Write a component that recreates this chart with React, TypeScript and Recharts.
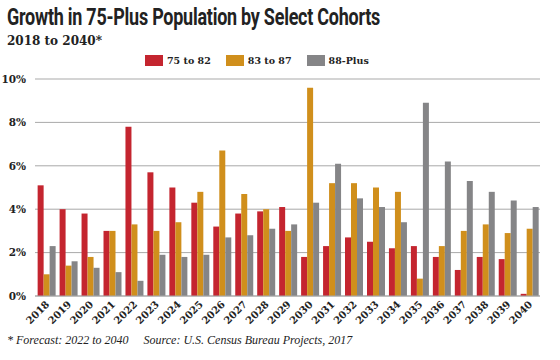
import { BarChart, Bar, XAxis, YAxis, CartesianGrid } from 'recharts';

const years = [
  '2018', '2019', '2020', '2021', '2022', '2023', '2024', '2025', '2026', '2027', '2028', '2029',
  '2030', '2031', '2032', '2033', '2034', '2035', '2036', '2037', '2038', '2039', '2040',
];
const cohort75to82 = [5.1, 4.0, 3.8, 3.0, 7.8, 5.7, 5.0, 4.3, 3.2, 3.8, 3.9, 4.1, 1.8, 2.3, 2.7, 2.5, 2.2, 2.3, 1.8, 1.2, 1.8, 1.7, 0.1];
const cohort83to87 = [1.0, 1.4, 1.8, 3.0, 3.3, 3.0, 3.4, 4.8, 6.7, 4.7, 4.0, 3.0, 9.6, 5.2, 5.2, 5.0, 4.8, 0.8, 2.3, 3.0, 3.3, 2.9, 3.1];
const cohort88plus = [2.3, 1.6, 1.3, 1.1, 0.7, 1.9, 1.8, 1.9, 2.7, 2.8, 3.1, 3.3, 4.3, 6.1, 4.5, 4.1, 3.4, 8.9, 6.2, 5.3, 4.8, 4.4, 4.1];
const yTicks = [0, 2, 4, 6, 8, 10];

const RED = '#c4252f';
const GOLD = '#d08f1c';
const GRAY = '#858587';
const SERIF = '"DejaVu Serif", serif';

const data = years.map((year, i) => ({
  year,
  a: cohort75to82[i],
  b: cohort83to87[i],
  c: cohort88plus[i],
}));

const legend = [
  { label: '75 to 82', color: RED },
  { label: '83 to 87', color: GOLD },
  { label: '88-Plus', color: GRAY },
];

function YearTick({ x, y, payload }: { x?: number; y?: number; payload?: { value: string } }) {
  return (
    <g transform={`translate(${(x ?? 0) + 4},${(y ?? 0) + 1})`}>
      <text
        x={0}
        y={0}
        transform="rotate(-45)"
        textAnchor="end"
        fontFamily={SERIF}
        fontWeight="bold"
        fontSize={10}
        fill="#222"
      >
        {payload?.value}
      </text>
    </g>
  );
}

export default function App() {
  return (
    <div style={{ position: 'absolute', left: 0, top: 0, width: 560, height: 360, background: '#fff', overflow: 'hidden' }}>
      <div style={{ position: 'absolute', left: 7, top: 4, whiteSpace: 'nowrap', transform: 'scaleX(0.78)', transformOrigin: 'left top', fontFamily: 'Roboto, sans-serif', fontWeight: 'bold', fontSize: 23, color: '#222', letterSpacing: -0.3 }}>
        Growth in 75-Plus Population by Select Cohorts
      </div>
      <div style={{ position: 'absolute', left: 7, top: 34, whiteSpace: 'nowrap', fontFamily: SERIF, fontWeight: 'bold', fontSize: 12, color: '#222' }}>
        2018 to 2040*
      </div>
      <div style={{ position: 'absolute', left: 145, top: 55, display: 'flex', gap: 15, fontFamily: SERIF, fontWeight: 'bold', fontSize: 9.5, color: '#222' }}>
        {legend.map((l) => (
          <div key={l.label} style={{ display: 'flex', alignItems: 'center', gap: 4 }}>
            <span style={{ display: 'inline-block', width: 18, height: 11, background: l.color }} />
            <span>{l.label}</span>
          </div>
        ))}
      </div>
      <div style={{ position: 'absolute', left: 0, top: 0 }}>
        <BarChart
          width={560}
          height={332}
          data={data}
          margin={{ top: 79, right: 20, bottom: 0, left: 0 }}
          barCategoryGap="12%"
          barGap={0}
        >
          <CartesianGrid vertical={false} stroke="#a9a9a9" />
          <XAxis dataKey="year" interval={0} tickLine={false} axisLine={{ stroke: '#a9a9a9' }} height={36} tick={<YearTick />} />
          <YAxis
            width={35}
            domain={[0, 10]}
            ticks={yTicks}
            tickFormatter={(v) => `${v}%`}
            axisLine={false}
            tickLine={false}
            tick={{ fontFamily: SERIF, fontWeight: 'bold', fontSize: 10.5, fill: '#222' }}
            tickMargin={3}
          />
          <Bar dataKey="a" fill={RED} isAnimationActive={false} />
          <Bar dataKey="b" fill={GOLD} isAnimationActive={false} />
          <Bar dataKey="c" fill={GRAY} isAnimationActive={false} />
        </BarChart>
      </div>
      <div style={{ position: 'absolute', left: 7, top: 333, whiteSpace: 'pre', fontFamily: '"Liberation Serif", serif', fontStyle: 'italic', fontSize: 12, color: '#222' }}>
        {'* Forecast: 2022 to 2040     Source: U.S. Census Bureau Projects, 2017'}
      </div>
    </div>
  );
}
